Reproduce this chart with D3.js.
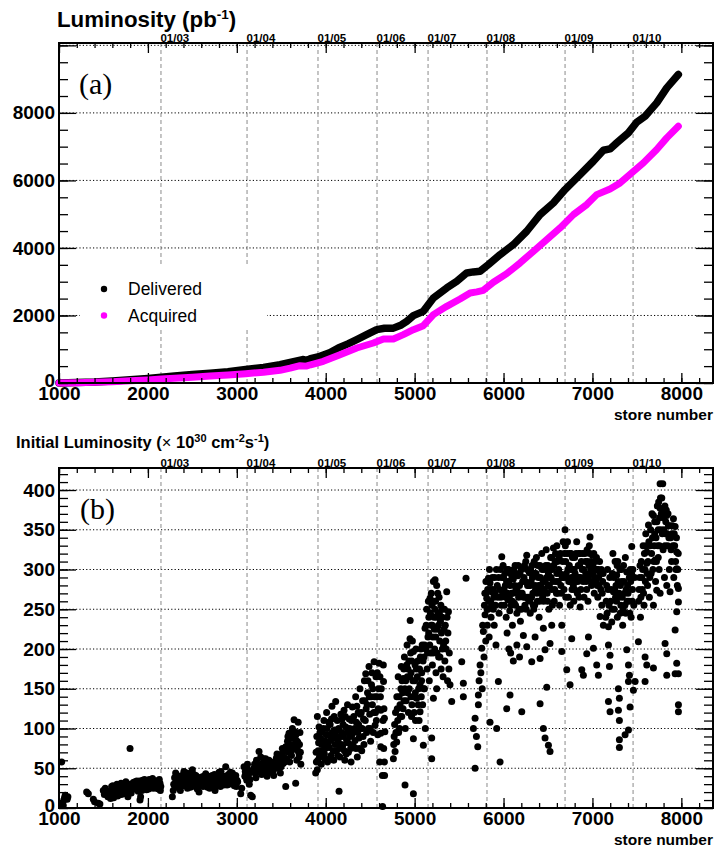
<!DOCTYPE html>
<html>
<head>
<meta charset="utf-8">
<script src="https://cdn.jsdelivr.net/npm/d3@7"></script>
<style>
  body { margin: 0; background: #fff; }
  svg { font-family: "Liberation Sans", Arial, Helvetica, sans-serif; }
</style>
</head>
<body>
<svg id="chart" width="715" height="850"></svg>
<script>
// ---- data ----
// calendar markers (store number at start of each year)
var dateLabels = ["01/03", "01/04", "01/05", "01/06", "01/07", "01/08", "01/09", "01/10"];
var dateStores = [2147, 3115, 3913, 4577, 5151, 5814, 6692, 7457];

var xTicks = [1000, 2000, 3000, 4000, 5000, 6000, 7000, 8000];
var yTicksA = [0, 2000, 4000, 6000, 8000, 10000];
var yTicksB = [0, 50, 100, 150, 200, 250, 300, 350, 400];

// integrated luminosity (pb^-1) vs store number
var delivered = [[1000,0],[1200,12],[1400,30],[1600,60],[1800,95],[2000,135],[2150,170],[2300,205],[2500,250],
  [2700,290],[2900,335],[3100,400],[3300,460],[3486,542],[3600,610],[3740,695],[3790,670],[3830,720],[3936,790],
  [4050,900],[4142,1037],[4250,1160],[4349,1284],[4460,1430],[4574,1580],[4660,1620],[4761,1625],[4850,1720],
  [4911,1827],[4986,1995],[5098,2123],[5211,2518],[5361,2815],[5473,3012],[5586,3259],[5660,3290],[5736,3309],
  [5829,3506],[5961,3802],[6111,4099],[6261,4494],[6411,4987],[6560,5333],[6692,5728],[6861,6173],[7010,6568],
  [7123,6894],[7198,6933],[7273,7111],[7404,7407],[7498,7723],[7592,7901],[7723,8296],[7836,8741],[7966,9136]];

var acquired = [[1000,0],[1200,8],[1400,20],[1600,40],[1800,65],[2000,92],[2150,115],[2300,140],[2500,172],
  [2700,205],[2900,240],[3100,275],[3300,320],[3486,375],[3600,440],[3711,514],[3780,500],[3830,540],[3973,642],
  [4161,840],[4349,1037],[4536,1185],[4649,1304],[4761,1304],[4873,1432],[4986,1580],[5098,1699],[5211,2025],
  [5361,2271],[5511,2489],[5624,2667],[5700,2700],[5773,2746],[5886,2983],[6036,3239],[6186,3556],[6336,3901],
  [6486,4247],[6636,4593],[6786,4987],[6936,5284],[7048,5580],[7198,5748],[7311,5926],[7442,6222],[7573,6519],
  [7723,6914],[7836,7259],[7966,7605]];

// initial luminosity (1e30 cm^-2 s^-1) per store
var init2002 = [[1030,58],[1040,6],[1048,3],[1055,10],[1062,13],[1070,16],[1085,12],[1092,11],[1100,14],
  [1311,20],[1330,18],[1386,11],[1400,8],[1442,6],[1460,5],[1498,22],[1510,17],[1536,18],[1550,14],[1573,16],
  [1592,27],[1600,20],[1615,13],[1630,18],[1645,24],[1660,15],[1675,21],[1690,26],[1700,17],[1715,23],[1730,28],
  [1745,19],[1760,25],[1775,14],[1790,30],[1799,75],[1805,22],[1820,27],[1835,32],[1850,24],[1860,29],[1875,34],
  [1890,21],[1900,31],[1911,10],[1918,14],[1925,28],[1940,35],[1955,26],[1970,32],[1985,23],[2000,29],[2015,36],
  [2030,27],[2045,33],[2060,25],[2075,31],[2090,28],[2105,34],[2120,24],[2136,31],[2145,27],
  [1520,25],[1560,21],[1580,12],[1605,28],[1622,22],[1640,17],[1652,30],[1668,19],[1683,25],[1698,31],[1708,22],
  [1722,18],[1738,24],[1752,33],[1768,21],[1782,27],[1812,19],[1828,24],[1842,28],[1855,33],[1868,26],[1882,30],
  [1895,25],[1908,34],[1932,22],[1948,30],[1962,36],[1978,28],[1992,33],[2008,24],[2022,31],[2038,26],[2052,37],
  [2068,29],[2082,34],[2098,25],[2112,30],[2128,36],[2140,22]];

var init2003 = [[2275,14],[2290,30],[2300,38],[2312,44],[2325,26],[2340,33],[2350,35],[2365,22],[2380,40],
  [2392,28],[2405,46],[2418,31],[2430,37],[2445,25],[2460,42],[2472,33],[2485,28],[2500,48],[2512,36],[2525,30],
  [2540,41],[2555,24],[2575,20],[2590,34],[2605,39],[2620,27],[2635,32],[2650,43],[2665,29],[2680,37],[2695,25],
  [2710,35],[2725,41],[2740,30],[2755,22],[2770,38],[2785,33],[2800,45],[2815,27],[2830,40],[2845,31],[2860,36],
  [2875,52],[2890,29],[2905,42],[2920,34],[2935,38],[2950,44],[2965,30],[2980,36],[2995,27],[3010,33],[3044,18],
  [3055,25],
  [2285,22],[2305,27],[2318,36],[2332,41],[2345,29],[2358,38],[2372,30],[2386,34],[2398,42],[2412,36],[2425,29],
  [2438,44],[2452,33],[2466,38],[2478,26],[2492,40],[2505,34],[2518,42],[2532,27],[2548,35],[2562,31],[2582,38],
  [2598,29],[2612,35],[2628,40],[2642,30],[2658,36],[2672,26],[2688,33],[2702,40],[2718,28],[2732,36],[2748,42],
  [2762,34],[2778,28],[2792,37],[2808,31],[2822,46],[2838,35],[2852,29],[2868,40],[2882,34],[2898,38],[2912,30],
  [2928,45],[2942,33],[2958,39],[2972,28],[2988,41],[3002,35]];

var init2004 = [[3081,52],[3090,40],[3100,44],[3112,35],[3125,48],[3140,30],[3156,16],[3175,14],[3185,45],
  [3200,55],[3215,38],[3230,50],[3250,71],[3262,48],[3269,64],[3280,42],[3295,57],[3310,46],[3325,62],[3340,40],
  [3355,52],[3370,45],[3385,58],[3400,48],[3415,41],[3430,55],[3445,63],[3460,50],[3475,60],[3490,44],[3505,68],
  [3520,56],[3535,72],[3550,77],[3550,27],[3560,62],[3570,84],[3580,70],[3587,94],[3595,58],[3605,80],[3615,66],
  [3625,100],[3632,88],[3644,111],[3650,74],[3662,31],[3665,92],[3675,60],[3685,83],[3690,108],[3695,70],
  [3700,64],[3710,95],[3720,55],
  [3095,46],[3108,38],[3120,55],[3132,42],[3148,36],[3192,50],[3208,44],[3222,60],[3238,52],[3255,45],[3275,55],
  [3288,48],[3302,62],[3318,50],[3332,56],[3348,44],[3362,60],[3378,50],[3392,55],[3408,46],[3422,58],[3438,52],
  [3452,68],[3468,56],[3482,64],[3498,52],[3512,75],[3528,64],[3542,58],[3565,72],[3575,90],[3590,78],[3600,88],
  [3610,72],[3620,92],[3638,80],[3655,96],[3670,85],[3680,75],[3705,80],[3715,70]];

var init2005 = [[3887,44],[3895,58],[3906,48],[3906,115],[3915,72],[3925,102],[3930,64],[3940,88],[3950,55],
  [3955,80],[3960,96],[3970,70],[3980,110],[3985,68],[3990,62],[4000,84],[4010,120],[4015,100],[4020,58],
  [4030,92],[4040,76],[4045,62],[4050,105],[4060,66],[4070,128],[4075,95],[4080,88],[4090,60],[4100,98],
  [4105,80],[4112,134],[4120,72],[4130,110],[4135,66],[4140,86],[4150,21],[4160,64],[4165,90],[4170,118],
  [4180,95],[4190,78],[4195,105],[4206,123],[4215,60],[4225,102],[4230,68],[4235,85],[4245,130],[4255,70],
  [4260,98],[4265,112],[4275,90],[4285,58],[4290,110],[4300,127],[4310,98],[4320,76],[4330,85],[4337,140],
  [4345,108],[4355,64],[4360,95],[4365,120],[4375,88],[4385,150],[4390,118],[4395,100],[4405,72],[4415,135],
  [4420,90],[4425,112],[4435,160],[4450,169],[4455,125],[4460,95],[4470,145],[4480,100],[4487,178],[4495,118],
  [4505,84],[4510,140],[4515,155],[4525,130],[4540,120],[4544,184],[4555,104],[4565,165],[4570,110],[4575,140],
  [4585,92],[4595,150],[4600,182],[4607,58],[4619,123],[4619,94],[4619,77],[4625,150],[4637,41],[4640,2],
  [4645,110],
  [3892,70],[3900,90],[3912,60],[3920,82],[3935,95],[3945,72],[3965,85],[3975,100],[3995,75],[4005,92],[4025,80],
  [4035,108],[4055,85],[4065,112],[4085,72],[4095,115],[4110,95],[4125,88],[4145,100],[4155,75],[4175,80],
  [4185,112],[4200,90],[4210,72],[4220,115],[4240,95],[4250,82],[4270,100],[4280,75],[4295,92],[4305,80],
  [4315,115],[4325,100],[4340,75],[4350,128],[4370,105],[4380,75],[4400,120],[4410,100],[4430,80],[4440,135],
  [4445,110],[4465,130],[4475,160],[4490,140],[4500,100],[4520,170],[4530,150],[4535,95],[4550,140],[4560,120],
  [4580,170],[4590,125],[4610,165],[4615,140]];

var init2006 = [[4648,180],[4650,159],[4655,125],[4660,113],[4665,96],[4652,75],[4660,58],[4662,41],[4761,62],
  [4770,90],[4780,71],[4785,120],[4798,83],[4800,140],[4810,110],[4815,165],[4820,95],[4830,100],[4836,130],
  [4845,150],[4850,178],[4855,115],[4865,145],[4873,163],[4880,135],[4885,190],[4892,29],[4895,100],[4900,160],
  [4911,180],[4915,205],[4920,145],[4925,175],[4930,120],[4940,150],[4948,213],[4950,236],[4955,195],[4960,170],
  [4965,115],[4970,130],[4975,210],[4986,197],[4986,87],[4986,18],[4990,140],[5000,160],[5005,180],[5010,110],
  [5015,200],[5023,138],[5030,165],[5035,185],[5045,150],[5050,110],[5060,155],[5061,121],[5070,200],[5075,140],
  [5080,170],[5085,205],[5090,130],[5098,79],[5105,190],[5110,150],[5120,100],
  [4765,80],[4775,105],[4790,95],[4805,125],[4825,140],[4840,115],[4858,160],[4870,125],[4878,175],[4890,150],
  [4905,135],[4918,165],[4935,185],[4945,165],[4958,140],[4968,185],[4980,160],[4995,120],[5008,145],[5020,175],
  [5040,130],[5055,175],[5065,190],[5078,160],[5095,185],[5102,150],[5112,205]];

var init2007 = [[5117,226],[5125,200],[5135,250],[5140,175],[5150,215],[5160,240],[5165,160],[5173,264],
  [5180,195],[5185,230],[5192,88],[5192,62],[5195,255],[5200,180],[5205,215],[5211,285],[5211,138],[5218,240],
  [5225,200],[5230,287],[5235,260],[5240,170],[5248,280],[5248,150],[5255,225],[5262,245],[5270,190],[5275,265],
  [5282,210],[5290,235],[5298,175],[5305,250],[5312,200],[5320,165],[5330,225],[5340,185],[5350,210],[5361,272],
  [5370,160],[5380,247],[5390,195],[5398,155],[5417,134],[5530,184],[5548,157],[5548,140],[5578,289],[5661,100],
  [5680,113],[5680,50],[5695,90],[5710,77],[5717,130],[5717,142],[5725,160],[5736,180],[5745,170],[5755,201],
  [5760,150],[5765,230],[5773,222],[5780,190],
  [5130,230],[5145,195],[5155,260],[5158,220],[5170,205],[5178,245],[5188,270],[5198,230],[5208,195],[5215,260],
  [5222,225],[5228,250],[5238,215],[5245,240],[5252,195],[5260,270],[5268,230],[5278,245],[5285,190],[5295,255],
  [5302,220],[5310,240],[5325,205],[5335,250],[5345,230],[5355,200],[5365,240],[5375,220],[5385,175]];

var init2008 = [[5785,255],[5792,243],[5800,210],[5805,270],[5811,264],[5818,230],[5825,250],[5830,289],
  [5838,215],[5848,283],[5848,108],[5855,260],[5860,240],[5867,272],[5875,290],[5885,250],[5895,230],[5905,270],
  [5915,205],[5923,100],[5930,280],[5942,159],[5950,245],[5961,58],[5970,265],[5980,316],[5990,270],[6000,290],
  [6010,255],[6020,280],[6030,240],[6036,125],[6040,300],[6040,220],[6050,262],[6060,285],[6060,200],[6073,142],
  [6070,248],[6080,295],[6080,195],[6090,270],[6100,230],[6100,260],[6110,288],[6110,185],[6120,258],[6130,305],
  [6140,275],[6150,245],[6150,205],[6150,275],[6160,292],[6170,265],[6180,280],[6180,190],[6190,235],[6200,300],
  [6200,250],[6205,121],[6210,270],[6223,217],[6230,290],[6240,255],[6250,310],[6250,265],[6261,318],[6261,203],
  [6270,280],[6280,262],[6290,296],[6300,245],[6300,280],[6310,285],[6317,184],[6320,305],[6330,270],[6340,250],
  [6350,295],[6350,255],[6355,215],[6360,275],[6370,315],[6380,260],[6390,290],[6400,240],[6400,275],[6410,305],
  [6411,188],[6411,131],[6420,280],[6430,320],[6440,265],[6448,226],[6448,100],[6450,260],[6455,300],[6467,199],
  [6467,88],[6470,285],[6480,325],[6486,152],[6490,270],[6500,305],[6500,280],[6505,79],[6510,250],[6520,290],
  [6523,207],[6523,71],[6530,315],[6540,275],[6542,230],[6550,300],[6550,255],[6561,327],[6570,260],[6580,310],
  [6590,285],[6600,330],[6600,295],[6610,270],[6620,300],[6630,255],[6640,320],[6650,270],[6655,230],[6655,197],
  [6660,290],[6670,335],[6680,275],
  [5790,270],[5802,285],[5815,250],[5822,275],[5835,260],[5842,300],[5852,275],[5865,255],[5880,275],[5890,265],
  [5900,290],[5910,255],[5920,300],[5935,265],[5945,290],[5955,275],[5965,300],[5975,255],[5985,290],[5995,305],
  [6005,275],[6015,295],[6025,265],[6035,285],[6045,270],[6055,300],[6065,265],[6075,280],[6085,255],[6095,290],
  [6105,270],[6115,300],[6125,280],[6135,255],[6145,295],[6155,270],[6165,305],[6175,250],[6185,295],[6195,270],
  [6215,285],[6225,265],[6235,305],[6245,285],[6255,250],[6265,300],[6275,265],[6285,280],[6295,260],[6305,300],
  [6315,265],[6325,290],[6335,255],[6345,310],[6355,280],[6365,295],[6375,270],[6385,305],[6395,280],[6405,260],
  [6415,290],[6425,270],[6435,300],[6445,285],[6460,275],[6475,305],[6485,290],[6495,260],[6505,295],[6515,280],
  [6525,300],[6535,290],[6545,315],[6555,285],[6565,305],[6575,275],[6585,320],[6595,270],[6605,310],[6615,285],
  [6625,315],[6635,295],[6645,280],[6665,310],[6675,290],[6685,320]];

var init2009 = [[6692,350],[6700,310],[6700,265],[6710,290],[6711,174],[6720,335],[6730,265],[6740,305],
  [6748,155],[6750,285],[6750,255],[6760,320],[6767,213],[6770,275],[6780,300],[6790,260],[6800,315],[6800,275],
  [6810,285],[6823,335],[6830,270],[6840,305],[6850,290],[6850,265],[6860,320],[6861,253],[6870,275],[6880,174],
  [6885,300],[6895,285],[6898,167],[6900,300],[6905,265],[6915,320],[6925,295],[6935,275],[6936,194],[6945,310],
  [6950,260],[6955,290],[6955,215],[6965,330],[6973,341],[6980,300],[6990,280],[7000,318],[7000,285],[7010,295],
  [7011,201],[7020,270],[7030,310],[7040,285],[7048,180],[7050,300],[7060,265],[7067,167],[7070,290],[7080,310],
  [7086,241],[7095,275],[7105,255],[7115,285],[7123,230],[7150,240],[7160,280],[7170,300],[7180,228],[7180,205],
  [7180,134],[7191,178],[7198,192],[7198,121],[7205,260],[7217,234],[7225,295],[7230,320],[7236,272],[7245,250],
  [7255,310],[7260,265],[7265,280],[7273,293],[7280,240],[7285,310],[7292,150],[7292,123],[7295,265],[7303,138],
  [7303,110],[7303,86],[7303,76],[7310,300],[7315,280],[7320,255],[7330,285],[7340,230],[7345,250],[7350,305],
  [7360,270],[7367,92],[7370,315],[7375,245],[7386,297],[7386,199],[7395,280],[7400,270],[7405,98],[7405,180],
  [7405,159],[7410,260],[7416,167],[7423,127],[7425,300],[7430,285],[7435,240],[7442,329],[7450,275],
  [6695,330],[6705,295],[6715,320],[6725,300],[6735,285],[6745,320],[6755,300],[6765,290],[6775,315],[6785,280],
  [6795,300],[6805,295],[6815,320],[6825,290],[6835,285],[6845,320],[6855,305],[6865,290],[6875,310],[6890,320],
  [6910,290],[6920,310],[6930,285],[6940,325],[6960,305],[6970,320],[6985,310],[6995,295],[7005,305],[7015,320],
  [7025,290],[7035,300],[7045,315],[7055,280],[7065,300],[7075,280],[7090,295],[7100,300],[7110,270],[7120,295],
  [7155,260],[7165,245],[7175,275],[7185,255],[7195,290],[7210,275],[7220,250],[7240,290],[7250,275],[7270,260],
  [7278,305],[7290,285],[7300,270],[7312,245],[7325,300],[7335,265],[7355,285],[7365,255],[7380,275],[7390,260],
  [7415,290],[7420,245],[7440,295],[7448,260]];

var init2010 = [[7455,300],[7461,148],[7465,255],[7475,290],[7480,159],[7517,209],[7520,260],[7530,290],
  [7540,240],[7550,310],[7560,275],[7570,330],[7580,255],[7590,300],[7592,190],[7592,159],[7600,345],[7611,180],
  [7611,322],[7611,308],[7620,280],[7630,356],[7640,265],[7650,330],[7660,295],[7670,370],[7686,368],[7686,255],
  [7686,176],[7690,310],[7700,345],[7705,312],[7710,285],[7723,274],[7725,360],[7735,330],[7745,385],[7750,300],
  [7761,408],[7761,377],[7761,270],[7770,350],[7780,390],[7791,408],[7795,325],[7800,365],[7810,290],[7817,207],
  [7820,345],[7830,375],[7836,368],[7836,280],[7836,194],[7836,167],[7845,330],[7855,355],[7865,300],[7873,272],
  [7880,340],[7890,310],[7900,355],[7911,364],[7915,290],[7925,330],[7930,354],[7930,224],[7930,169],[7940,300],
  [7948,322],[7948,301],[7948,247],[7948,182],[7955,280],[7967,276],[7967,259],[7967,169],[7967,130],[7967,121],
  [7525,275],[7535,305],[7545,265],[7555,290],[7565,300],[7575,270],[7585,320],[7595,285],[7605,330],[7615,295],
  [7625,310],[7635,335],[7645,290],[7655,350],[7665,320],[7675,340],[7680,300],[7695,330],[7700,360],[7715,340],
  [7720,310],[7730,380],[7740,350],[7740,315],[7755,365],[7755,330],[7765,390],[7775,370],[7785,345],[7790,375],
  [7805,350],[7815,330],[7815,380],[7825,360],[7840,345],[7850,370],[7860,340],[7870,355],[7885,325],[7895,345],
  [7905,330],[7920,345],[7935,310],[7945,340],[7960,300],[7965,320]];

var initLumi = [].concat(init2002, init2003, init2004, init2005, init2006, init2007, init2008, init2009, init2010);

// ---- layout ----
var svg = d3.select("#chart");
var left = 59, right = 713;

var x = d3.scaleLinear().domain([1000, 8356]).range([left, right]);

// dotted grid, dashed year markers and their labels
function drawGrid(y, top, bottom, yMajor) {
    var g = svg.append("g");

    g.selectAll(".grid")
        .data(yMajor.filter(function (d) { return d > 0; }))
        .enter().append("line")
        .attr("x1", left).attr("x2", right)
        .attr("y1", function (d) { return y(d); })
        .attr("y2", function (d) { return y(d); })
        .attr("stroke", "#000").attr("stroke-width", 1)
        .attr("stroke-dasharray", "1.2,2.2");

    g.selectAll(".year")
        .data(dateStores)
        .enter().append("line")
        .attr("x1", function (d) { return x(d); })
        .attr("x2", function (d) { return x(d); })
        .attr("y1", top).attr("y2", bottom)
        .attr("stroke", "#8a8a8a").attr("stroke-width", 1)
        .attr("stroke-dasharray", "4,3");

    g.selectAll(".ylab")
        .data(dateLabels)
        .enter().append("text")
        .attr("x", function (d, i) { return x(dateStores[i]) - 0.5; })
        .attr("y", top - 1)
        .attr("font-size", "11.5px")
        .attr("font-weight", "bold")
        .text(function (d) { return d; });
}

// ROOT style frame with ticks on all four sides
function drawAxes(y, top, bottom, yMajor, yMinorStep, yMax, yLabelMax) {
    var g = svg.append("g");
    var yMinor = d3.range(0, yMax, yMinorStep);
    var xMinor = d3.range(1000, 8356, 200);

    g.append("g").attr("transform", "translate(" + left + ",0)")
        .call(d3.axisLeft(y).tickValues(yMinor).tickSize(-9).tickFormat(""));
    g.append("g").attr("transform", "translate(" + left + ",0)")
        .call(d3.axisLeft(y).tickValues(yMajor).tickSize(-17).tickPadding(4)
            .tickFormat(function (d) { return d > yLabelMax ? "" : d; }))
        .selectAll("text")
        .attr("font-size", "19px").attr("font-weight", "bold").attr("fill", "#000")
        .attr("y", function (d) { return d === 0 ? -3 : 0; });

    g.append("g").attr("transform", "translate(" + right + ",0)")
        .call(d3.axisRight(y).tickValues(yMinor).tickSize(-9).tickFormat(""));
    g.append("g").attr("transform", "translate(" + right + ",0)")
        .call(d3.axisRight(y).tickValues(yMajor).tickSize(-17).tickFormat(""));

    g.append("g").attr("transform", "translate(0," + bottom + ")")
        .call(d3.axisBottom(x).tickValues(xMinor).tickSize(-5).tickFormat(""));
    g.append("g").attr("transform", "translate(0," + bottom + ")")
        .call(d3.axisBottom(x).tickValues(xTicks).tickSize(-10).tickPadding(4).tickFormat(d3.format("d")))
        .selectAll("text")
        .attr("font-size", "19px").attr("font-weight", "bold").attr("fill", "#000");

    g.append("g").attr("transform", "translate(0," + top + ")")
        .call(d3.axisTop(x).tickValues(xMinor).tickSize(-5).tickFormat(""));
    g.append("g").attr("transform", "translate(0," + top + ")")
        .call(d3.axisTop(x).tickValues(xTicks).tickSize(-10).tickFormat(""));

    g.selectAll(".domain").remove();
    g.selectAll(".tick line").attr("stroke", "#000").attr("stroke-width", 1.3);

    g.append("rect")
        .attr("x", left).attr("y", top)
        .attr("width", right - left).attr("height", bottom - top)
        .attr("fill", "none").attr("stroke", "#000").attr("stroke-width", 2);

    g.append("text")
        .attr("x", right).attr("y", bottom + 37)
        .attr("text-anchor", "end")
        .attr("font-size", "15.5px").attr("font-weight", "bold")
        .text("store number");
}

// ---- panel (a) ----
var topA = 43, bottomA = 383;
var yA = d3.scaleLinear().domain([0, 10070]).range([bottomA, topA]);

drawGrid(yA, topA, bottomA, yTicksA);

// legend on a white box
svg.append("rect").attr("x", 80).attr("y", 267).attr("width", 187).attr("height", 60).attr("fill", "#fff");
var legend = [["Delivered", "#000"], ["Acquired", "#ff00ff"]];
var lg = svg.selectAll(".leg").data(legend).enter().append("g")
    .attr("transform", function (d, i) { return "translate(104," + (289 + i * 26.5) + ")"; });
lg.append("circle").attr("r", 3.2).attr("fill", function (d) { return d[1]; });
lg.append("text").attr("x", 24).attr("y", 6)
    .attr("font-size", "17.5px")
    .text(function (d) { return d[0]; });

var lineA = d3.line()
    .x(function (d) { return x(d[0]); })
    .y(function (d) { return yA(d[1]); });

svg.append("path").datum(delivered)
    .attr("d", lineA)
    .attr("fill", "none").attr("stroke", "#000")
    .attr("stroke-width", 7.5).attr("stroke-linejoin", "round").attr("stroke-linecap", "round");
svg.append("path").datum(acquired)
    .attr("d", lineA)
    .attr("fill", "none").attr("stroke", "#ff00ff")
    .attr("stroke-width", 7).attr("stroke-linejoin", "round").attr("stroke-linecap", "round");

drawAxes(yA, topA, bottomA, yTicksA, 500, 10070, 8000);

svg.append("text").attr("x", 79).attr("y", 94)
    .attr("font-family", "'Liberation Serif', 'DejaVu Serif', serif")
    .attr("font-size", "30px").text("(a)");

var tA = svg.append("text").attr("x", 57).attr("y", 27)
    .attr("font-size", "22.3px").attr("font-weight", "bold");
tA.append("tspan").text("Luminosity (pb");
tA.append("tspan").attr("dy", -8).attr("font-size", "13.5px").text("-1");
tA.append("tspan").attr("dy", 8).text(")");

// ---- panel (b) ----
var topB = 468, bottomB = 808;
var yB = d3.scaleLinear().domain([0, 427.7]).range([bottomB, topB]);

drawGrid(yB, topB, bottomB, yTicksB);

svg.append("g").selectAll("circle")
    .data(initLumi)
    .enter().append("circle")
    .attr("cx", function (d) { return x(d[0]); })
    .attr("cy", function (d) { return yB(d[1]); })
    .attr("r", 3.5)
    .attr("fill", "#000");

drawAxes(yB, topB, bottomB, yTicksB, 10, 427.7, 400);

svg.append("text").attr("x", 80).attr("y", 519)
    .attr("font-family", "'Liberation Serif', 'DejaVu Serif', serif")
    .attr("font-size", "30px").text("(b)");

var tB = svg.append("text").attr("x", 16).attr("y", 448)
    .attr("font-size", "16.5px").attr("font-weight", "bold");
tB.append("tspan").text("Initial Luminosity (");
tB.append("tspan").attr("font-weight", "normal").text("\u00d7");
tB.append("tspan").text(" 10");
tB.append("tspan").attr("dy", -6).attr("font-size", "11px").text("30");
tB.append("tspan").attr("dy", 6).text(" cm");
tB.append("tspan").attr("dy", -6).attr("font-size", "11px").text("-2");
tB.append("tspan").attr("dy", 6).text("s");
tB.append("tspan").attr("dy", -6).attr("font-size", "11px").text("-1");
tB.append("tspan").attr("dy", 6).text(")");
</script>
</body>
</html>
